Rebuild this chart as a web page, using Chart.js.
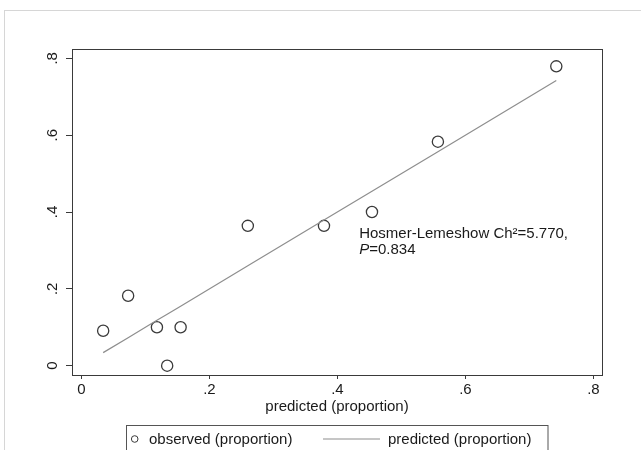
<!DOCTYPE html>
<html>
<head>
<meta charset="utf-8">
<script src="https://cdn.jsdelivr.net/npm/chart.js@4/dist/chart.umd.min.js"></script>
<style>
  html, body { margin: 0; padding: 0; background: #fff; }
  canvas { display: block; }
</style>
</head>
<body>
<canvas id="chart" width="641" height="450"></canvas>
<script>
// Datos (grupos de Hosmer-Lemeshow)
const predicted = [0.034, 0.073, 0.118, 0.134, 0.155, 0.260, 0.379, 0.454, 0.557, 0.742];
const observed  = [0.091, 0.182, 0.100, 0.000, 0.100, 0.364, 0.364, 0.400, 0.583, 0.779];

const xTicks = [0, 0.2, 0.4, 0.6, 0.8];
const yTicks = [0, 0.2, 0.4, 0.6, 0.8];
const tickLabels = ['0', '.2', '.4', '.6', '.8'];
const xTitle = 'predicted (proportion)';
const seriesLabels = ['observed (proportion)', 'predicted (proportion)'];
const noteLine1 = 'Hosmer-Lemeshow Ch\u00B2=5.770,';
const noteLine2 = ['P', '=0.834'];
const notePos = { x: 0.434, y: 0.332 };

const FONT = '"Liberation Sans", Arial, Helvetica, sans-serif';
const INK = '#1a1a1a';
const FRAME = '#3a3a3a';
const LINE_GRAY = '#8e8e8e';

// Marco exterior, caja del gráfico, nota y leyenda
const stataPlugin = {
    id: 'stataDecor',
    beforeDraw(chart) {
        const ctx = chart.ctx;
        ctx.save();
        ctx.fillStyle = '#fff';
        ctx.fillRect(0, 0, chart.width, chart.height);
        ctx.strokeStyle = '#d6d6d6';
        ctx.lineWidth = 1;
        ctx.strokeRect(4.5, 10.5, chart.width + 10, chart.height + 10);
        ctx.restore();
    },
    afterDraw(chart) {
        const ctx = chart.ctx;
        const a = chart.chartArea;
        const xs = chart.scales.x;
        const ys = chart.scales.y;
        ctx.save();
        ctx.strokeStyle = FRAME;
        ctx.lineWidth = 1;
        ctx.strokeRect(Math.round(a.left) + 0.5, Math.round(a.top) + 0.5,
            Math.round(a.right - a.left), Math.round(a.bottom - a.top));

        // Nota del test
        const nx = xs.getPixelForValue(notePos.x);
        const ny = ys.getPixelForValue(notePos.y);
        ctx.fillStyle = INK;
        ctx.textBaseline = 'alphabetic';
        ctx.textAlign = 'left';
        ctx.font = '15px ' + FONT;
        ctx.fillText(noteLine1, nx, ny);
        ctx.font = 'italic 15px ' + FONT;
        ctx.fillText(noteLine2[0], nx, ny + 16);
        const pw = ctx.measureText(noteLine2[0]).width;
        ctx.font = '15px ' + FONT;
        ctx.fillText(noteLine2[1], nx + pw, ny + 16);

        // Leyenda
        const ly = 439;
        ctx.strokeStyle = '#555';
        ctx.strokeRect(126.5, 425.5, 421.5, 40);
        ctx.strokeStyle = FRAME;
        ctx.beginPath();
        ctx.arc(134.7, ly, 3.3, 0, Math.PI * 2);
        ctx.stroke();
        ctx.strokeStyle = LINE_GRAY;
        ctx.lineWidth = 1.2;
        ctx.beginPath();
        ctx.moveTo(323, ly);
        ctx.lineTo(380, ly);
        ctx.stroke();
        ctx.fillStyle = INK;
        ctx.textBaseline = 'middle';
        ctx.fillText(chart.data.datasets[0].label, 149, ly + 1);
        ctx.fillText(chart.data.datasets[1].label, 388, ly + 1);
        ctx.restore();
    }
};

const ctx = document.getElementById('chart').getContext('2d');
new Chart(ctx, {
    type: 'scatter',
    data: {
        datasets: [
            {
                label: seriesLabels[0],
                data: predicted.map((p, i) => ({ x: p, y: observed[i] })),
                pointRadius: 5.6,
                pointBorderWidth: 1.3,
                pointBorderColor: FRAME,
                pointBackgroundColor: 'rgba(0,0,0,0)',
                showLine: false,
                order: 2,
            },
            {
                label: seriesLabels[1],
                data: predicted.map((p) => ({ x: p, y: p })),
                type: 'line',
                borderColor: LINE_GRAY,
                borderWidth: 1.2,
                pointRadius: 0,
                fill: false,
                tension: 0,
                order: 1,
            },
        ],
    },
    options: {
        responsive: false,
        animation: false,
        events: [],
        layout: { padding: { left: 0, top: 49, right: 39, bottom: 25 } },
        plugins: {
            legend: { display: false },
            title: { display: false },
            tooltip: { enabled: false },
        },
        scales: {
            x: {
                type: 'linear',
                position: 'bottom',
                min: -0.0147,
                max: 0.8134,
                afterBuildTicks: (s) => { s.ticks = xTicks.map((v) => ({ value: v })); },
                afterFit: (s) => { s.height = 50; },
                grid: { drawOnChartArea: false, drawTicks: true, tickLength: 4, color: FRAME },
                border: { display: true, color: FRAME },
                ticks: {
                    padding: 2,
                    color: INK,
                    font: { family: FONT, size: 15 },
                    maxRotation: 0,
                    callback: (v, i) => tickLabels[i],
                },
                title: {
                    display: true,
                    text: xTitle,
                    color: INK,
                    font: { family: FONT, size: 15 },
                    padding: { top: 0, bottom: 9 },
                },
            },
            y: {
                type: 'linear',
                position: 'left',
                min: -0.0242,
                max: 0.8242,
                afterBuildTicks: (s) => { s.ticks = yTicks.map((v) => ({ value: v })); },
                afterFit: (s) => { s.width = 72; },
                grid: { drawOnChartArea: false, drawTicks: true, tickLength: 6, color: FRAME },
                border: { display: true, color: FRAME },
                ticks: {
                    padding: 7,
                    crossAlign: 'center',
                    minRotation: 90,
                    maxRotation: 90,
                    color: INK,
                    font: { family: FONT, size: 15 },
                    callback: (v, i) => tickLabels[i],
                },
            },
        },
    },
    plugins: [stataPlugin],
});
</script>
</body>
</html>
